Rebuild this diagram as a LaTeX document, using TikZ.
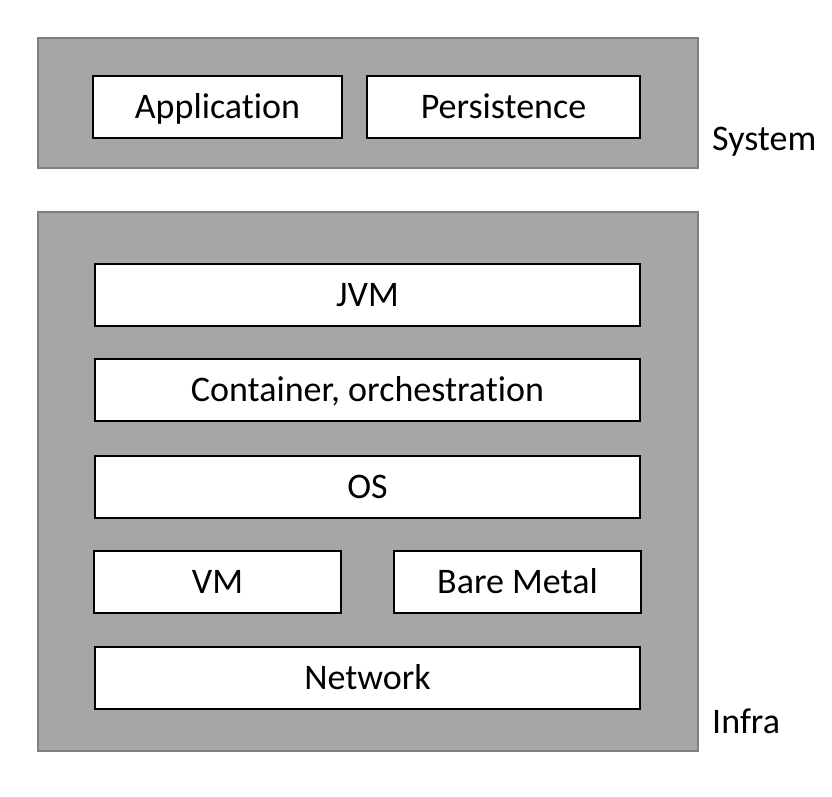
\documentclass[tikz,border=0pt]{standalone}
\usepackage{fontspec}
\setmainfont{Carlito}[Ligatures=NoCommon]
\usepackage{tikz}
\usetikzlibrary{positioning}
\definecolor{tiergray}{HTML}{A6A6A6}
\definecolor{tierline}{HTML}{7F7F7F}

\begin{document}
\begin{tikzpicture}[x=1pt, y=-1pt,
	tier/.style={draw=tierline, fill=tiergray, line width=1.2pt},
	layer/.style={draw=black, fill=white, line width=2pt, inner sep=0pt, font=\fontsize{36}{40}\selectfont, text height=23pt, text depth=0pt, minimum height=62pt},
	tag/.style={anchor=base west, inner sep=0pt, font=\fontsize{36}{40}\selectfont}]
	\useasboundingbox (0,0) rectangle (832,796);
	% tiers
	\draw[tier] (38,38) rectangle (698,168);
	\draw[tier] (38,212) rectangle (698,751);
	% system
	\node[layer, minimum width=249pt] (app) at (217.5,107) {Application};
	\node[layer, minimum width=273pt] (persist) at (503.5,107) {Persistence};
	% infra
	\node[layer, minimum width=545pt] (jvm) at (367.5,294.5) {JVM};
	\node[layer, minimum width=545pt] (cont) at (367.5,390) {Container, orchestration};
	\node[layer, minimum width=545pt] (os) at (367.5,487) {OS};
	\node[layer, minimum width=247pt] (vm) at (217.5,581.5) {VM};
	\node[layer, minimum width=247pt] (metal) at (517.5,581.5) {Bare Metal};
	\node[layer, minimum width=545pt] (net) at (367.5,677.5) {Network};
	\node[tag] (sys) at (712,150) {System};
	\node[tag] (infra) at (712,733) {Infra};
\end{tikzpicture}
\end{document}
